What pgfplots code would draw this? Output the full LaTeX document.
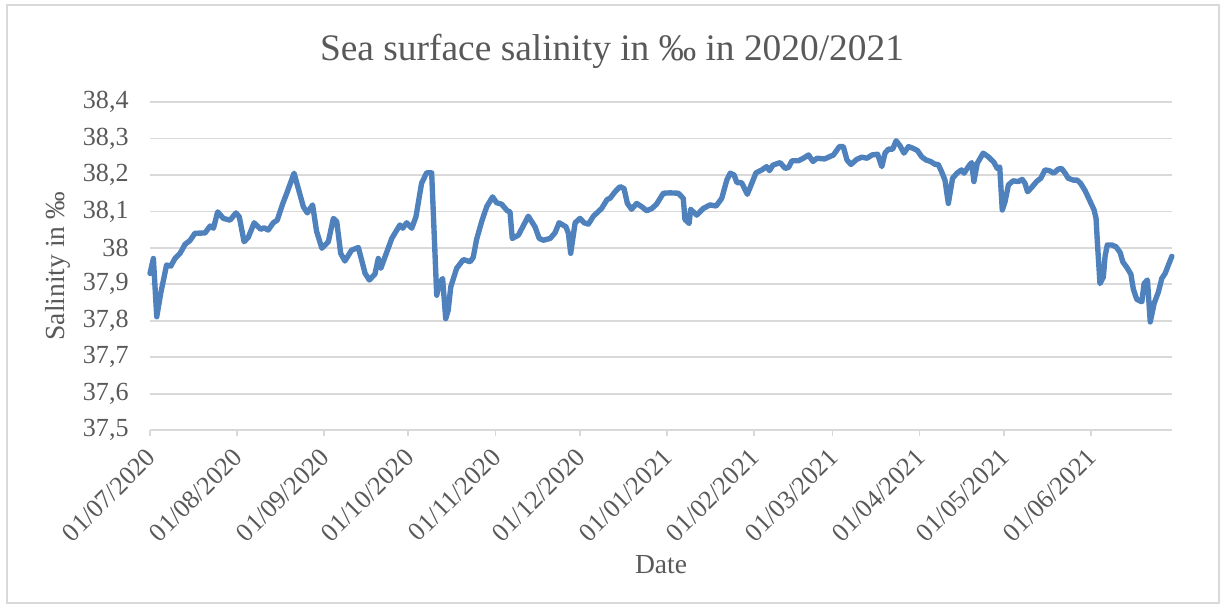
\documentclass[border=0pt]{standalone}
\usepackage{fontspec}
\setmainfont{Liberation Serif}
\usepackage{pgfplots}
\pgfplotsset{compat=1.18}
\usepackage{pgfplotstable}

\definecolor{txtgray}{HTML}{595959}
\definecolor{gridgray}{HTML}{D9D9D9}
\definecolor{lineblue}{HTML}{4F81BD}

% day index (0 = 01/07/2020) and salinity in per mille
\pgfplotstableread{
day sal
0 37.930
1.2 37.971
2.4 37.811
3.8 37.875
5.9 37.953
7.4 37.950
8.9 37.971
10.7 37.985
12.5 38.010
14.2 38.020
16.0 38.040
19.6 38.041
21.4 38.060
22.6 38.054
24.1 38.099
26.1 38.081
28.5 38.076
30.6 38.096
31.8 38.085
33.5 38.017
35.0 38.029
37.1 38.069
39.4 38.051
40.6 38.055
42.1 38.049
43.9 38.069
45.3 38.076
47.3 38.122
48.7 38.150
51.3 38.205
54.6 38.113
56.0 38.096
57.9 38.118
59.3 38.046
61.2 37.999
63.5 38.017
65.3 38.081
66.5 38.072
67.9 37.985
69.4 37.964
71.8 37.994
74.2 38.001
76.6 37.930
78.1 37.912
80.1 37.928
81.3 37.971
82.2 37.944
86.1 38.026
89.0 38.063
90.0 38.054
91.4 38.069
93.2 38.054
94.7 38.085
96.7 38.177
98.5 38.206
100.3 38.206
102.1 37.870
103.0 37.902
104.2 37.916
105.3 37.806
106.2 37.829
107.1 37.893
109.2 37.944
111.6 37.968
114.0 37.962
115.1 37.974
116.3 38.023
118.1 38.072
119.9 38.113
122.0 38.140
123.4 38.124
125.2 38.120
127.2 38.102
128.2 38.099
129.0 38.026
131.2 38.035
133.5 38.069
134.7 38.087
137.1 38.058
138.6 38.026
140.1 38.021
142.5 38.026
144.2 38.041
145.7 38.069
148.1 38.058
149.0 38.040
149.8 37.985
151.4 38.069
153.1 38.081
154.6 38.069
156.1 38.065
157.9 38.087
160.8 38.108
162.8 38.133
163.8 38.136
165.6 38.154
167.4 38.168
168.8 38.163
170.0 38.122
171.5 38.106
173.3 38.122
175.1 38.113
176.9 38.102
178.7 38.108
180.4 38.120
182.8 38.150
185.2 38.151
188.1 38.150
189.9 38.136
190.5 38.078
192.0 38.067
192.5 38.106
194.7 38.090
197.0 38.108
199.4 38.118
201.6 38.115
203.6 38.136
205.4 38.186
206.6 38.205
208.0 38.200
209.0 38.179
210.7 38.179
212.7 38.147
214.3 38.177
215.8 38.206
217.9 38.214
219.6 38.223
220.6 38.212
221.8 38.227
224.4 38.234
226.2 38.218
227.4 38.221
228.6 38.239
230.9 38.239
232.7 38.246
234.5 38.255
236.1 38.237
237.5 38.246
240.2 38.244
243.4 38.255
245.5 38.278
246.9 38.278
248.2 38.241
249.6 38.229
251.7 38.243
253.5 38.249
255.3 38.246
257.1 38.255
259.1 38.257
260.6 38.223
261.8 38.261
263.0 38.271
264.5 38.271
265.7 38.294
267.1 38.280
268.5 38.260
270.1 38.278
271.8 38.273
273.3 38.267
274.8 38.250
276.4 38.241
278.0 38.237
279.6 38.229
280.7 38.229
281.9 38.209
283.1 38.186
284.3 38.122
285.8 38.191
287.5 38.206
289.0 38.214
289.9 38.205
291.8 38.227
292.6 38.234
293.4 38.182
294.6 38.232
296.7 38.260
298.5 38.250
300.5 38.235
301.7 38.218
302.6 38.222
303.5 38.104
304.5 38.127
305.7 38.173
307.4 38.184
309.2 38.182
310.6 38.188
311.6 38.177
312.5 38.154
314.0 38.166
315.7 38.182
317.2 38.191
318.7 38.214
320.2 38.212
321.9 38.205
323.4 38.216
324.6 38.218
325.8 38.206
327.0 38.191
328.8 38.186
330.2 38.186
331.4 38.177
333.0 38.157
334.7 38.129
336.2 38.104
336.9 38.081
337.4 38.012
338.3 37.902
339.5 37.920
340.1 37.976
340.9 38.008
342.5 38.008
344.0 38.003
345.5 37.987
346.4 37.962
347.9 37.946
349.3 37.928
350.2 37.886
351.4 37.859
353.2 37.852
354.0 37.902
355.2 37.912
356.2 37.797
357.6 37.848
359.1 37.879
360.3 37.916
361.5 37.930
363.9 37.977
}\salinity

\begin{document}
\begin{tikzpicture}
% chart area and its light frame
\path[use as bounding box] (0,0) rectangle (422pt,208.3pt);
\draw[gridgray, line width=0.6pt] (2.4pt,0.4pt) rectangle (420.3pt,206.6pt);
\begin{axis}[
  at={(51.72pt,60pt)}, anchor=south west,
  scale only axis,
  width=352.4pt, height=113.1pt,
  xmin=0, xmax=364,
  ymin=37.5, ymax=38.4,
  xtick={0,31,62,92,123,153,184,215,243,274,304,335},
  xticklabels={01/07/2020,01/08/2020,01/09/2020,01/10/2020,01/11/2020,01/12/2020,
               01/01/2021,01/02/2021,01/03/2021,01/04/2021,01/05/2021,01/06/2021},
  ytick={37.5,37.6,37.7,37.8,37.9,38.0,38.1,38.2,38.3,38.4},
  /pgf/number format/.cd, use comma, fixed, precision=1, assume math mode=true,
  /pgfplots/.cd,
  axis x line*=bottom,
  axis y line*=left,
  y axis line style={draw=none},
  x axis line style={-, draw=gridgray, line width=0.6pt},
  ytick style={draw=none},
  xtick style={draw=gridgray, line width=0.6pt},
  tick align=outside,
  major tick length=2pt,
  ymajorgrids,
  grid style={gridgray, line width=0.6pt},
  tick label style={font=\rmfamily\fontsize{9}{10}\selectfont, text=txtgray},
  yticklabel style={xshift=-1.85pt},
  xticklabel style={xshift=2.8pt, yshift=-3.4pt, rotate=45, anchor=east},
  xlabel={Date},
  ylabel={Salinity in ‰},
  label style={font=\rmfamily\fontsize{9.5}{11}\selectfont, text=txtgray},
  xlabel style={at={(axis description cs:0.5,-0.436)}, anchor=base},
  ylabel style={at={(axis description cs:-0.090,0.5)}, anchor=center, rotate=0},
  title={Sea surface salinity in ‰ in 2020/2021},
  title style={font=\rmfamily\fontsize{12.9}{15}\selectfont, text=txtgray,
               at={(axis description cs:0.452,1.128)}, anchor=base, yshift=-6pt},
  clip=false,
]
\addplot[lineblue, line width=1.85pt, line join=round, line cap=round] table[x=day, y=sal] {\salinity};
\end{axis}
\end{tikzpicture}
\end{document}
